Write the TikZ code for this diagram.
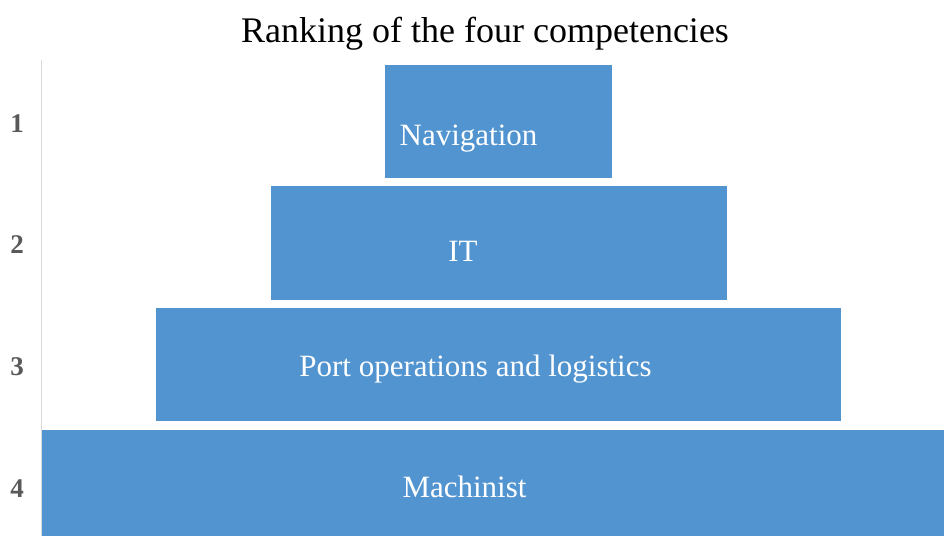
\documentclass[tikz,border=0pt]{standalone}
\usepackage{fontspec}
\setmainfont{Liberation Serif}
\definecolor{barblue}{RGB}{81,148,208}
\definecolor{axisgray}{RGB}{217,217,217}
\definecolor{numgray}{RGB}{89,89,89}
\tikzset{
  bar/.style={fill=barblue, draw=none, inner sep=0pt, rectangle},
  barlabel/.style={text=white, anchor=base, inner sep=0pt, font=\fontsize{31}{34}\selectfont},
  ranknum/.style={text=numgray, anchor=base, inner sep=0pt, font=\bfseries\fontsize{27}{30}\selectfont},
  titletext/.style={anchor=base, inner sep=0pt, font=\fontsize{36}{40}\selectfont}
}
\begin{document}
\begin{tikzpicture}[x=1pt,y=-1pt]
\useasboundingbox (0,0) rectangle (944,536);
\fill[white] (0,0) rectangle (944,536);
% title
\node[titletext] (title) at (485,42) {Ranking of the four competencies};
% axis
\coordinate (axtop) at (41,60);
\coordinate (axbot) at (41,536);
\draw[axisgray, line width=1pt] (axtop) -- (axbot);
% bars
\node[bar, minimum width=227pt, minimum height=113pt] (b1) at (498.5,121.5) {};
\node[bar, minimum width=456pt, minimum height=114pt] (b2) at (499,243) {};
\node[bar, minimum width=685pt, minimum height=113pt] (b3) at (498.5,364.5) {};
\node[bar, minimum width=902pt, minimum height=106pt] (b4) at (493,483) {};
% labels
\node[barlabel] (l1) at (468.5,145) {Navigation};
\node[barlabel] (l2) at (463,261) {IT};
\node[barlabel] (l3) at (475.5,376) {Port operations and logistics};
\node[barlabel] (l4) at (464.5,497) {Machinist};
% rank numbers
\node[ranknum] (n1) at (17,132) {1};
\node[ranknum] (n2) at (17,253) {2};
\node[ranknum] (n3) at (17,375) {3};
\node[ranknum] (n4) at (17,497) {4};
\end{tikzpicture}
\end{document}
